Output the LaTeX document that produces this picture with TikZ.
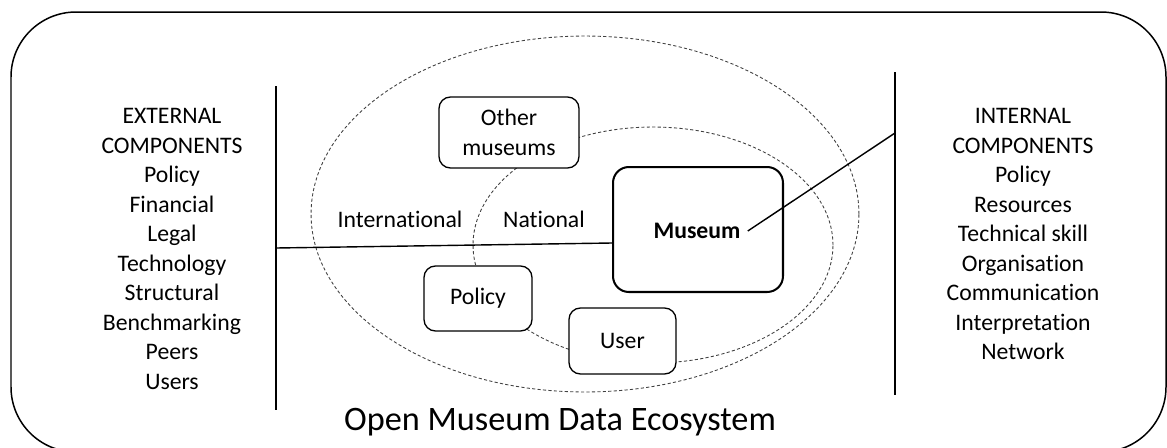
\documentclass[tikz,border=0pt]{standalone}
\usepackage{fontspec}
\setmainfont{Carlito}[Ligatures={NoCommon}]
\usetikzlibrary{calc}
\begin{document}
\begin{tikzpicture}[x=0.02cm, y=-0.02cm,
  frame/.style={draw=black, line width=0.85pt, rounded corners=1.3cm},
  rule/.style={draw=black, line width=0.8pt},
  ring/.style={draw=black!75, line width=0.5pt, dash pattern=on 1.8pt off 1.3pt},
  actor/.style={draw=black, fill=white, line width=0.75pt, rounded corners=6.5pt,
    inner sep=0pt, align=center, font=\fontsize{13.5}{16.8}\selectfont},
  museumbox/.style={draw=black, fill=white, line width=1.15pt, rounded corners=9pt,
    inner sep=0pt, minimum width=3.4cm, minimum height=2.5cm},
  body/.style={align=center, inner sep=0pt, font=\fontsize{13.5}{16.8}\selectfont},
  scopelabel/.style={anchor=base, inner sep=0pt, font=\fontsize{13.5}{16.8}\selectfont}
]
\useasboundingbox (0,0) rectangle (1167,447);

% outer frame of the ecosystem
\begin{scope}
  \clip (0,0) rectangle (1167,447);
  \draw[frame] (11,12) rectangle (1166,452);
\end{scope}

% international and national rings
\draw[ring] (585,214) ellipse [x radius=5.48cm, y radius=3.56cm];
\draw[ring] (653,245) ellipse [x radius=3.6cm, y radius=2.36cm];

% separators between the component lists and the ecosystem
\coordinate (extA) at (276,86);
\coordinate (extB) at (276,410);
\coordinate (extJ) at (276,248);
\coordinate (intA) at (895,72);
\coordinate (intB) at (895,395);
\coordinate (intJ) at (895,133);
\draw[rule] (extA) -- (extB);
\draw[rule] (intA) -- (intB);

% actors
\node[actor, minimum width=2.8cm, minimum height=1.42cm] (others) at (509,132.5) {Other\\museums};
\node[actor, minimum width=2.16cm, minimum height=1.3cm] (policy) at (478,298.5) {Policy};
\node[actor, minimum width=2.14cm, minimum height=1.32cm] (user) at (622.5,341) {User};
\node[museumbox] (museum) at (698,229.5) {};
\node[body, font=\fontsize{13.5}{16.8}\selectfont\bfseries, inner sep=4pt] (museumlabel) at (697,231) {Museum};

% links from the museum to both sides
\draw[rule] (extJ) -- ($(museum.west)+(0,13.5)$);
\draw[rule] (museumlabel.east) -- (intJ);

% ring labels
\node[scopelabel] (intl) at (400,227) {International};
\node[scopelabel] (natl) at (544,227) {National};

% component lists
\node[body] (external) at (172,249) {EXTERNAL\\COMPONENTS\\Policy\\Financial\\Legal\\Technology\\Structural\\Benchmarking\\Peers\\Users};
\node[body] (internal) at (1023,234.3) {INTERNAL\\COMPONENTS\\Policy\\Resources\\Technical skill\\Organisation\\Communication\\Interpretation\\Network};

% title
\node[anchor=base, inner sep=0pt, font=\fontsize{19.5}{23}\selectfont] (title) at (560,430) {Open Museum Data Ecosystem};
\end{tikzpicture}
\end{document}
